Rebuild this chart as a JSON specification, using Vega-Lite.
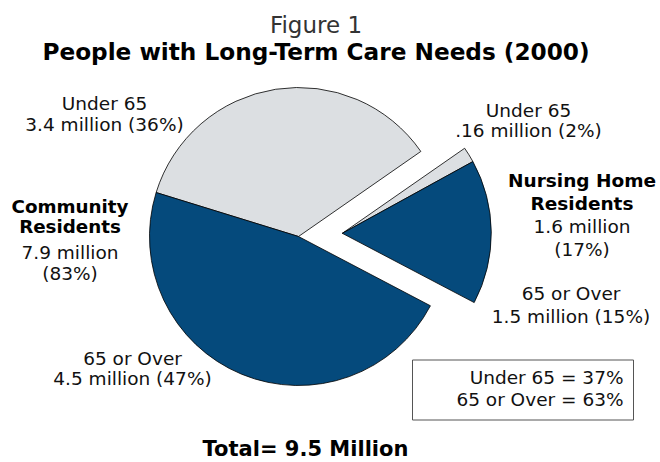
{
  "$schema": "https://vega.github.io/schema/vega-lite/v6.json",
  "width": 660,
  "height": 462,
  "autosize": {"type": "fit", "contains": "padding"},
  "padding": {"top": 14, "left": 0, "right": 0, "bottom": 0},
  "title": {
    "text": "Figure 1",
    "subtitle": "People with Long-Term Care Needs (2000)",
    "anchor": "middle",
    "dx": -14,
    "baseline": "top",
    "font": "DejaVu Sans",
    "fontSize": 23,
    "fontWeight": "normal",
    "color": "#333333",
    "subtitleFont": "DejaVu Sans",
    "subtitleFontSize": 23.2,
    "subtitleFontWeight": "bold",
    "subtitleColor": "#000000",
    "subtitlePadding": 4,
    "offset": 0
  },
  "datasets": {
    "slices": [
      {"group": "Community Residents", "age": "Under 65", "value": 3.4, "label": ["Under 65", "3.4 million (36%)"]},
      {"group": "Community Residents", "age": "65 or Over", "value": 4.5, "label": ["65 or Over", "4.5 million (47%)"]},
      {"group": "Nursing Home Residents", "age": "Under 65", "value": 0.16, "label": ["Under 65", ".16 million (2%)"]},
      {"group": "Nursing Home Residents", "age": "65 or Over", "value": 1.5, "label": ["65 or Over", "1.5 million (15%)"]}
    ],
    "groups": [
      {"group": "Community Residents", "name": ["Community", "Residents"], "total": ["7.9 million", "(83%)"]},
      {"group": "Nursing Home Residents", "name": ["Nursing Home", "Residents"], "total": ["1.6 million", "(17%)"]}
    ],
    "notes": [
      {"note": "Total= 9.5 Million"}
    ]
  },
  "data": {"name": "slices"},
  "layer": [
    {
      "transform": [{"filter": "datum.group === 'Community Residents'"}],
      "mark": {"type": "arc", "outerRadius": 149, "stroke": "#000000", "strokeWidth": 0.8, "xOffset": -31.5, "yOffset": -26.5},
      "encoding": {
        "theta": {"field": "value", "type": "quantitative", "stack": true, "scale": {"domain": [0, 9.56], "range": [2.0543, 8.3375]}},
        "order": {"field": "age", "sort": "ascending"},
        "color": {
          "field": "age",
          "type": "nominal",
          "scale": {"domain": ["Under 65", "65 or Over"], "range": ["#dcdfe2", "#054a7c"]},
          "legend": {
            "orient": "none",
            "legendX": 412,
            "legendY": 295.5,
            "title": null,
            "symbolSize": 0,
            "symbolOpacity": 0,
            "symbolStrokeWidth": 0,
            "labelFont": "DejaVu Sans",
            "labelFontSize": 18.5,
            "labelColor": "#111111",
            "labelAlign": "right",
            "labelOffset": 184,
            "labelLimit": 400,
            "rowPadding": 3.5,
            "padding": 9,
            "strokeColor": "#555555",
            "labelExpr": "datum.label === 'Under 65' ? 'Under 65 = 37%' : '65 or Over = 63%'"
          }
        }
      }
    },
    {
      "transform": [{"filter": "datum.group === 'Nursing Home Residents'"}],
      "mark": {"type": "arc", "outerRadius": 149, "stroke": "#000000", "strokeWidth": 0.8, "xOffset": 12.3, "yOffset": -29.7},
      "encoding": {
        "theta": {"field": "value", "type": "quantitative", "stack": true, "scale": {"domain": [0, 9.56], "range": [0.9634, 7.2466]}},
        "order": {"field": "age", "sort": "descending"},
        "color": {"field": "age", "type": "nominal"}
      }
    },
    {
      "transform": [{"filter": "datum.group === 'Community Residents' && datum.age === 'Under 65'"}],
      "mark": {"type": "text", "font": "DejaVu Sans", "fontSize": 18.5, "lineHeight": 21.5, "align": "center", "baseline": "middle", "color": "#111111", "dx": -225.5, "dy": -159.5},
      "encoding": {"text": {"field": "label"}}
    },
    {
      "transform": [{"filter": "datum.group === 'Community Residents' && datum.age === '65 or Over'"}],
      "mark": {"type": "text", "font": "DejaVu Sans", "fontSize": 18.5, "lineHeight": 20.5, "align": "center", "baseline": "middle", "color": "#111111", "dx": -197.5, "dy": 95.5},
      "encoding": {"text": {"field": "label"}}
    },
    {
      "transform": [{"filter": "datum.group === 'Nursing Home Residents' && datum.age === 'Under 65'"}],
      "mark": {"type": "text", "font": "DejaVu Sans", "fontSize": 18.5, "lineHeight": 20, "align": "center", "baseline": "middle", "color": "#111111", "dx": 198.5, "dy": -152.2},
      "encoding": {"text": {"field": "label"}}
    },
    {
      "transform": [{"filter": "datum.group === 'Nursing Home Residents' && datum.age === '65 or Over'"}],
      "mark": {"type": "text", "font": "DejaVu Sans", "fontSize": 18.5, "lineHeight": 23, "align": "center", "baseline": "middle", "color": "#111111", "dx": 241, "dy": 30.7},
      "encoding": {"text": {"field": "label"}}
    },
    {
      "data": {"name": "groups"},
      "transform": [{"filter": "datum.group === 'Community Residents'"}],
      "mark": {"type": "text", "font": "DejaVu Sans", "fontSize": 18.3, "fontWeight": "bold", "lineHeight": 20, "align": "center", "baseline": "middle", "color": "#000000", "dx": -260, "dy": -55.5},
      "encoding": {"text": {"field": "name"}}
    },
    {
      "data": {"name": "groups"},
      "transform": [{"filter": "datum.group === 'Community Residents'"}],
      "mark": {"type": "text", "font": "DejaVu Sans", "fontSize": 18.5, "lineHeight": 21.7, "align": "center", "baseline": "middle", "color": "#111111", "dx": -260, "dy": -10.5},
      "encoding": {"text": {"field": "total"}}
    },
    {
      "data": {"name": "groups"},
      "transform": [{"filter": "datum.group === 'Nursing Home Residents'"}],
      "mark": {"type": "text", "font": "DejaVu Sans", "fontSize": 18.5, "fontWeight": "bold", "lineHeight": 23.3, "align": "center", "baseline": "middle", "color": "#000000", "dx": 252, "dy": -82.3},
      "encoding": {"text": {"field": "name"}}
    },
    {
      "data": {"name": "groups"},
      "transform": [{"filter": "datum.group === 'Nursing Home Residents'"}],
      "mark": {"type": "text", "font": "DejaVu Sans", "fontSize": 18.5, "lineHeight": 23.3, "align": "center", "baseline": "middle", "color": "#111111", "dx": 252, "dy": -36.5},
      "encoding": {"text": {"field": "total"}}
    },
    {
      "data": {"name": "notes"},
      "mark": {"type": "text", "font": "DejaVu Sans", "fontSize": 21, "fontWeight": "bold", "align": "center", "baseline": "middle", "color": "#000000", "dx": -24.5, "dy": 187},
      "encoding": {"text": {"field": "note"}}
    }
  ],
  "resolve": {"scale": {"theta": "independent"}},
  "config": {"view": {"stroke": null}, "font": "DejaVu Sans"}
}
